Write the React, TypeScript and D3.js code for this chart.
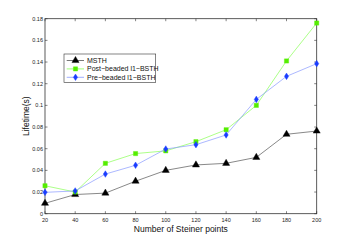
import * as d3 from 'd3';
import React, { useRef, useEffect } from 'react';

// steiner point counts on the x axis
const steinerPoints = [20, 40, 60, 80, 100, 120, 140, 160, 180, 200];
const yTicks = [0, 0.02, 0.04, 0.06, 0.08, 0.1, 0.12, 0.14, 0.16, 0.18];
const yTickLabels = ['0', '0.02', '0.04', '0.06', '0.08', '0.1', '0.12', '0.14', '0.16', '0.18'];

const msth = [0.0096, 0.0177, 0.019, 0.030, 0.040, 0.045, 0.0465, 0.052, 0.0733, 0.0763];
const postBeaded = [0.0258, 0.020, 0.0465, 0.0555, 0.058, 0.0665, 0.0775, 0.100, 0.141, 0.176];
const preBeaded = [0.0197, 0.021, 0.0366, 0.0447, 0.0597, 0.0637, 0.0727, 0.1055, 0.1268, 0.1385];

const seriesNames = ['MSTH', 'Post\u2212beaded l1\u2212BSTH', 'Pre\u2212beaded l1\u2212BSTH'];

function App() {
  const ref = useRef<SVGSVGElement>(null);

  useEffect(() => {
    const width = 350, height = 241;
    const margin = { top: 18.7, right: 33.3, bottom: 27.3, left: 45 };
    const svg = d3.select(ref.current);
    svg.selectAll('*').remove();

    const x = d3.scaleLinear().domain([20, 200]).range([margin.left, width - margin.right]);
    const y = d3.scaleLinear().domain([0, 0.18]).range([height - margin.bottom, margin.top]);

    const frame = '#333';
    const font = 'Liberation Sans, Arial, sans-serif';

    // box
    svg.append('rect')
      .attr('x', x(20)).attr('y', y(0.18))
      .attr('width', x(200) - x(20)).attr('height', y(0) - y(0.18))
      .attr('fill', 'white').attr('stroke', frame).attr('stroke-width', 0.8);

    // ticks inside, all four sides
    const tk = 2.5;
    const g = svg.append('g').attr('stroke', frame).attr('stroke-width', 0.6);
    steinerPoints.forEach(v => {
      g.append('line').attr('x1', x(v)).attr('x2', x(v)).attr('y1', y(0)).attr('y2', y(0) - tk);
      g.append('line').attr('x1', x(v)).attr('x2', x(v)).attr('y1', y(0.18)).attr('y2', y(0.18) + tk);
    });
    yTicks.forEach(v => {
      g.append('line').attr('x1', x(20)).attr('x2', x(20) + tk).attr('y1', y(v)).attr('y2', y(v));
      g.append('line').attr('x1', x(200)).attr('x2', x(200) - tk).attr('y1', y(v)).attr('y2', y(v));
    });

    svg.append('g').selectAll('text').data(steinerPoints).enter().append('text')
      .attr('x', d => x(d)).attr('y', y(0) + 8)
      .attr('text-anchor', 'middle').attr('font-size', 5.5).attr('font-family', font).attr('fill', '#222')
      .text(d => d);

    svg.append('g').selectAll('text').data(yTicks).enter().append('text')
      .attr('x', x(20) - 2).attr('y', d => y(d) + 2)
      .attr('text-anchor', 'end').attr('font-size', 5.5).attr('font-family', font).attr('fill', '#222')
      .text((d, i) => yTickLabels[i]);

    svg.append('text')
      .attr('x', (x(20) + x(200)) / 2).attr('y', 232)
      .attr('text-anchor', 'middle').attr('font-size', 8.5).attr('font-family', font).attr('fill', '#111')
      .text('Number of Steiner points');

    svg.append('text')
      .attr('transform', `translate(29,${(y(0) + y(0.18)) / 2}) rotate(-90)`)
      .attr('text-anchor', 'middle').attr('font-size', 8.5).attr('font-family', font).attr('fill', '#111')
      .text('Lifetime(s)');

    const series = [
      { values: msth, line: '#555', fill: 'black', shape: d3.symbolTriangle, size: 22 },
      { values: postBeaded, line: '#88ff55', fill: '#55ee00', shape: d3.symbolSquare, size: 18 },
      { values: preBeaded, line: '#8899ff', fill: '#1a3cff', shape: 'diamond', size: 0 },
    ];

    const lineGen = d3.line<number>().x((d, i) => x(steinerPoints[i])).y(d => y(d));
    const diamond = 'M0,-3.3L2.1,0L0,3.3L-2.1,0Z';

    const drawMarker = (sel: any, s: any) => {
      if (s.shape === 'diamond') sel.attr('d', diamond);
      else sel.attr('d', d3.symbol().type(s.shape).size(s.size)());
      sel.attr('fill', s.fill).attr('stroke', s.fill).attr('stroke-width', 0.4);
    };

    series.forEach(s => {
      svg.append('path').datum(s.values)
        .attr('d', lineGen).attr('fill', 'none').attr('stroke', s.line).attr('stroke-width', 0.7);
      s.values.forEach((v, i) => {
        const m = svg.append('path').attr('transform', `translate(${x(steinerPoints[i])},${y(v)})`);
        drawMarker(m, s);
      });
    });

    // legend
    const lg = svg.append('g');
    lg.append('rect').attr('x', 64).attr('y', 54).attr('width', 91.7).attr('height', 28.3)
      .attr('fill', 'white').attr('stroke', frame).attr('stroke-width', 0.6);
    series.forEach((s, i) => {
      const yy = 60.5 + i * 8.4;
      lg.append('line').attr('x1', 66.7).attr('x2', 84).attr('y1', yy).attr('y2', yy)
        .attr('stroke', s.line).attr('stroke-width', 0.8);
      const m = lg.append('path').attr('transform', `translate(75.5,${yy})`);
      drawMarker(m, s);
      lg.append('text').attr('x', 87).attr('y', yy + 2.4)
        .attr('font-size', 7).attr('font-family', font).attr('fill', '#111')
        .text(seriesNames[i]);
    });
  }, []);

  return (
    <svg ref={ref} width={350} height={241}
      style={{ position: 'absolute', left: 0, top: 0, background: 'white' }} />
  );
}

export default App;
